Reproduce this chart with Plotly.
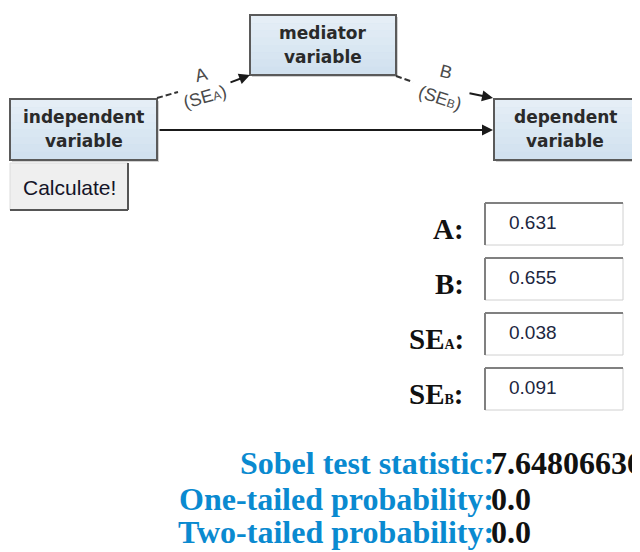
import plotly.graph_objects as go

# ---- data ----
node_names = ["independent<br>variable", "mediator<br>variable", "dependent<br>variable"]
path_labels = ["A", "B"]
path_se_labels = ["(SE<span style='font-size:12px'>A</span>)", "(SE<span style='font-size:12px'>B</span>)"]
input_labels = ["A:", "B:",
                "SE<span style='font-size:14px'>A</span>:",
                "SE<span style='font-size:14px'>B</span>:"]
input_values = ["0.631", "0.655", "0.038", "0.091"]
result_labels = ["Sobel test statistic:", "One-tailed probability:", "Two-tailed probability:"]
result_values = ["7.64806636", "0.0", "0.0"]
button_text = "Calculate!"

W, H = 640, 552
OFF = 8  # page body margin
fig = go.Figure()
shapes = []
ann = []

# node boxes (x0, y0, x1, y1)
boxes = [(10, 99, 157, 160), (250, 15, 396, 75), (494, 99, 636, 160)]
for (x0, y0, x1, y1), name in zip(boxes, node_names):
    shapes.append(dict(type="rect", x0=x0 + 2, y0=y0 + 2, x1=x1 + 2, y1=y1 + 2,
                       line=dict(width=0), fillcolor="rgba(0,0,0,0.18)", layer="below"))
    shapes.append(dict(type="rect", x0=x0, y0=y0, x1=x1, y1=y1,
                       line=dict(color="#5a5a5a", width=2), fillcolor="#cfe0ef", layer="below"))
    # soft vertical gradient (lighter at top)
    nb = 8
    for i in range(nb):
        ya = y0 + 1 + (y1 - y0 - 2) * i / nb
        yb = y0 + 1 + (y1 - y0 - 2) * (i + 1) / nb
        shapes.append(dict(type="rect", x0=x0 + 1, y0=ya, x1=x1 - 1, y1=yb,
                           line=dict(width=0), fillcolor="rgba(255,255,255,%.3f)" % (0.45 * (1 - i / nb)),
                           layer="below"))
    l1, l2 = name.split("<br>")
    cx = (x0 + x1) / 2
    ann.append(dict(x=cx, y=y0 + 18, text="<b>" + l1 + "</b>", showarrow=False,
                    font=dict(family="DejaVu Sans", size=17, color="#2a2a2a"), xanchor="center", yanchor="middle"))
    ann.append(dict(x=cx, y=y0 + 42, text="<b>" + l2 + "</b>", showarrow=False,
                    font=dict(family="DejaVu Sans", size=17, color="#2a2a2a"), xanchor="center", yanchor="middle"))

# direct path arrow
ann.append(dict(x=493, y=130, ax=158, ay=130, xref="x", yref="y", axref="x", ayref="y",
                text="", showarrow=True, arrowhead=2, arrowsize=1.1, arrowwidth=2,
                arrowcolor="#1a1a1a", standoff=0))

# dashed mediated paths
shapes.append(dict(type="line", x0=157, y0=98, x1=178, y1=92, line=dict(color="#333", width=2, dash="6px,3px")))
shapes.append(dict(type="line", x0=396, y0=76, x1=413, y1=82, line=dict(color="#333", width=2, dash="6px,3px")))
ann.append(dict(x=250, y=75, ax=229, ay=83, xref="x", yref="y", axref="x", ayref="y",
                text="", showarrow=True, arrowhead=2, arrowsize=1.1, arrowwidth=2,
                arrowcolor="#1a1a1a", standoff=0))
ann.append(dict(x=493, y=98, ax=468, ay=93, xref="x", yref="y", axref="x", ayref="y",
                text="", showarrow=True, arrowhead=2, arrowsize=1.1, arrowwidth=2,
                arrowcolor="#1a1a1a", standoff=0))

# path labels
lab_pos = [(201, 75, -14), (446, 72, 14)]
se_pos = [(205, 97, -16), (440, 98, 18)]
for (x, y, r), t in zip(lab_pos, path_labels):
    ann.append(dict(x=x, y=y, text=t, showarrow=False, textangle=r,
                    font=dict(family="Liberation Sans", size=18, color="#4a4a4a"), xanchor="center", yanchor="middle"))
for (x, y, r), t in zip(se_pos, path_se_labels):
    ann.append(dict(x=x, y=y, text=t, showarrow=False, textangle=r,
                    font=dict(family="Liberation Sans", size=18, color="#4a4a4a"), xanchor="center", yanchor="middle"))

# Calculate! button
shapes.append(dict(type="rect", x0=10, y0=163, x1=128, y1=210, line=dict(color="#dcdcdc", width=1), fillcolor="#efefef"))
shapes.append(dict(type="line", x0=128, y0=163, x1=128, y1=210, line=dict(color="#555", width=2)))
shapes.append(dict(type="line", x0=10, y0=210, x1=128, y1=210, line=dict(color="#555", width=2)))
ann.append(dict(x=69, y=187, text=button_text, showarrow=False,
                font=dict(family="Liberation Sans", size=21, color="#141428"), xanchor="center", yanchor="middle"))

# inputs
in_tops = [203, 258, 313, 368]
for top, lab, val in zip(in_tops, input_labels, input_values):
    x0, x1, y0, y1 = 485, 623, top, top + 42
    shapes.append(dict(type="rect", x0=x0, y0=y0, x1=x1, y1=y1, line=dict(color="#d0d0d0", width=1), fillcolor="white"))
    shapes.append(dict(type="line", x0=x0, y0=y0, x1=x1, y1=y0, line=dict(color="#808080", width=2)))
    shapes.append(dict(type="line", x0=x0, y0=y0, x1=x0, y1=y1, line=dict(color="#808080", width=2)))
    ann.append(dict(x=507, y=y0 + 19, text=val, showarrow=False,
                    font=dict(family="Liberation Sans", size=19, color="#1c2640"), xanchor="left", yanchor="middle"))
    ann.append(dict(x=466, y=y0 + 26, text="<b>" + lab + "</b>", showarrow=False,
                    font=dict(family="Liberation Serif", size=29, color="#111"), xanchor="right", yanchor="middle"))

# results
res_y = [463, 499, 532]
for y, lab, val in zip(res_y, result_labels, result_values):
    ann.append(dict(x=496, y=y, text="<b>" + lab + "</b>", showarrow=False,
                    font=dict(family="Liberation Serif", size=32, color="#0a8ad0"), xanchor="right", yanchor="middle"))
    ann.append(dict(x=489, y=y, text="<b>" + val + "</b>", showarrow=False,
                    font=dict(family="Liberation Serif", size=32, color="#111"), xanchor="left", yanchor="middle"))

for a in ann:
    a.setdefault("xref", "x")
    a.setdefault("yref", "y")

fig.update_layout(
    width=W, height=H, margin=dict(l=0, r=0, t=0, b=0),
    paper_bgcolor="white", plot_bgcolor="white",
    xaxis=dict(range=[OFF, W + OFF], visible=False, fixedrange=True),
    yaxis=dict(range=[H + OFF, OFF], visible=False, fixedrange=True),
    shapes=shapes, annotations=ann, showlegend=False,
)
fig.write_html("out.html")
